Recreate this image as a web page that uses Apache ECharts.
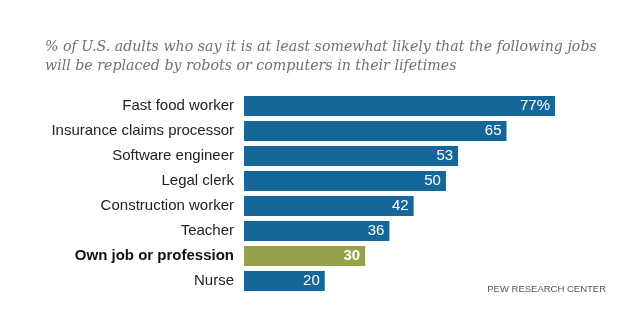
<!DOCTYPE html>
<html><head><meta charset="utf-8">
<script src="https://cdn.jsdelivr.net/npm/echarts@6/dist/echarts.min.js"></script>
<style>html,body{margin:0;padding:0;background:#fff}#c{width:641px;height:321px}</style>
</head><body><div id="c"></div>
<script>
const categories = ["Fast food worker","Insurance claims processor","Software engineer","Legal clerk","Construction worker","Teacher","Own job or profession","Nurse"];
const values = [77,65,53,50,42,36,30,20];
const highlight = "Own job or profession";

const chart = echarts.init(document.getElementById('c'));
chart.setOption({
  animation:false,
  backgroundColor:'#fff',
  title:{
    text:'% of U.S. adults who say it is at least somewhat likely that the following jobs\nwill be replaced by robots or computers in their lifetimes',
    left:40, top:33,
    textStyle:{fontFamily:'DejaVu Serif',fontStyle:'italic',fontWeight:'normal',fontSize:14.2,color:'#707070',lineHeight:19}
  },
  graphic:[{type:'text',right:35,top:284,style:{text:'PEW RESEARCH CENTER',font:'9.5px "Liberation Sans"',fill:'#555'}}],
  grid:{left:244,width:311,top:93.5,bottom:27.5},
  xAxis:{type:'value',min:0,max:77,show:false},
  yAxis:{type:'category',inverse:true,data:categories,
    axisLine:{show:false},axisTick:{show:false},
    axisLabel:{margin:10,fontSize:15,color:'#222',fontFamily:'Liberation Sans',
      formatter:v=>v===highlight?'{b|'+v+'}':v,
      rich:{b:{fontWeight:'bold',fontSize:15,color:'#111',fontFamily:'Liberation Sans'}}}},
  series:[{type:'bar',barWidth:20,
    data:values.map((v,i)=>({value:v,
      itemStyle:{color:categories[i]===highlight?'#97a04b':'#156699'},
      label:categories[i]===highlight?{fontWeight:'bold'}:{}})),
    label:{show:true,position:'insideRight',distance:5,color:'#fff',fontSize:15,fontFamily:'Liberation Sans',
      formatter:p=>p.dataIndex===0?p.value+'%':String(p.value)}
  }]
});
</script></body></html>
